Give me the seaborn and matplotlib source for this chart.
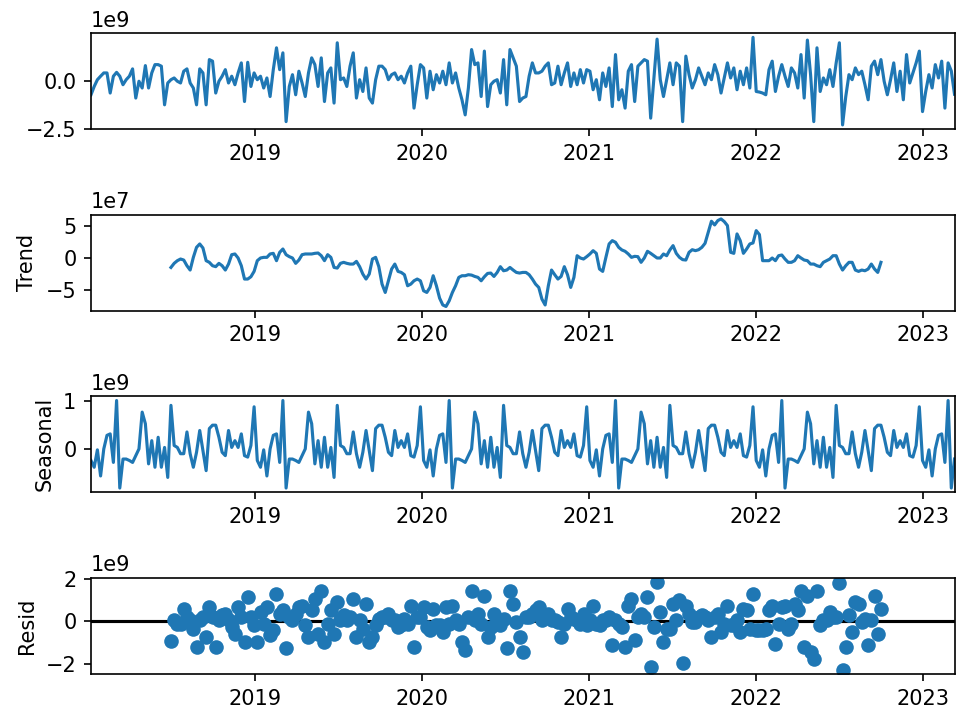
import numpy as np
import pandas as pd
import matplotlib
matplotlib.use('Agg')
import matplotlib.pyplot as plt
import matplotlib.dates as mdates
import seaborn as sns

# Observed series, weekly, in units of 1e9
observed = [
    -0.73, -0.30, 0.05, 0.23, 0.40, 0.40, -0.64, 0.23, 0.43, 0.23,
    -0.21, 0.05, 0.23, 0.61, -0.90, -0.03, -0.38, 0.78, -0.38, 0.40,
    0.83, 0.83, 0.75, -1.25, -0.12, 0.05, 0.14, -0.03, -0.12, 0.49,
    0.61, -0.12, -0.38, -1.25, 0.61, 0.40, -1.25, 1.09, 1.01, -0.64,
    -0.03, 0.23, 0.57, -0.12, 0.23, -0.21, 0.40, 0.92, -1.08, 0.95,
    -0.30, 0.40, 0.05, 0.23, -0.38, 0.14, -0.82, 0.57, 1.70, 0.57,
    1.44, -2.12, -0.30, 0.31, -0.73, 0.49, -0.12, -0.82, 0.40, 1.18,
    0.83, -0.30, 1.18, -1.08, 0.40, 0.66, -1.16, 1.96, 0.05, 0.14,
    -0.30, 0.75, 1.44, -0.90, 0.05, -0.56, 0.66, -0.90, -1.16, 0.05,
    0.75, 0.75,
    0.57, 0.05, 0.31, 0.40, 0.05, 0.23, -0.12, 0.40, 0.75, -1.42,
    -0.21, 0.83, 0.66, -0.90, 0.49, -0.47, 0.31, -0.12, 0.49, -0.21,
    0.92, -0.12, 0.40, -0.38, -0.99, -1.77, -0.38, 1.61, 0.83, 0.92,
    -0.82, 1.53, -1.34, -0.21, -0.03, 0.05, -0.64, 1.09, -1.25, 1.61,
    1.18, 0.75, -1.08, -0.90, -0.82, 0.23, 0.92, 0.40, 0.40, 0.49,
    0.75, 0.92, -0.21, -0.12, 0.75, -0.21, 0.40, 0.92, -0.30, 0.40,
    -0.21, 0.57, -0.12, 0.57, 0.49, -0.47, 0.05, -0.99, 0.40, -0.30,
    0.66, -1.34, 1.35, -0.99, -0.47, -1.42, 0.49, 0.83, -1.08, 0.75,
    0.92, 1.09, 1.01, -1.94, 0.10, 2.15, 0.05, -0.82, 0.05, 0.92,
    -0.21,
    0.92, 0.75, -2.12, 1.27, 0.31, -0.38, 0.05, 0.66, 0.23, -0.21,
    0.40, 0.05, 0.83, 0.31, -0.64, 0.14, 0.92, 0.14, 0.66, -0.47,
    0.49, -0.21, 0.66, -0.38, 2.24, -0.56, -0.59, -0.64, -0.73, 0.57,
    1.01, -0.56, 0.23, 0.83, 0.23, -0.30, 0.66, 0.40, -0.38, 1.35,
    -0.90, 2.10, 0.31, -2.12, 1.70, -0.56, 0.14, -0.21, 0.57, -0.30,
    0.92, 1.96, -2.29, -0.82, 0.31, 0.05, 0.66, 0.31, 0.49, -0.21,
    -0.99, 0.75, 1.01, 0.31, 1.09, -0.03, -0.73, 0.05, 0.92, -0.56,
    0.49, -0.99, 1.35, -0.12, 0.40, 0.92, 1.53, -1.60, -0.56, 0.31,
    -0.38, 0.83, 0.14, 1.01, -1.42, 0.92, 0.50, -0.70,
]

# Trend, in units of 1e7 (starts at week 25)
trend = [
    -1.42, -0.78, -0.36, -0.10, -0.26, -1.15, -1.83, 0.16, 1.73, 2.26,
    1.63, -0.36, -0.62, -1.15, -1.30, -0.78, -1.15, -1.83, -0.89, 0.58,
    0.69, 0.06, -1.15, -3.24, -3.24, -2.88, -2.04, -0.36, 0.06, 0.16,
    0.16, 0.69, 0.79, -0.36, 0.95, 1.47, 0.58, 0.27, 0.06, -0.78,
    -0.26, 0.58, 0.69, 0.69, 0.69, 0.79, 0.84, 0.42, -0.36, 0.58,
    0.16, -1.42, -1.52, -0.78, -0.62, -0.78, -0.89, -0.89, -0.47, -1.30,
    -2.46, -3.24, -2.46, -0.10, 0.16, -1.30, -4.03, -5.34, -3.51, -1.67,
    -0.89, -2.04, -2.20, -2.56, -4.29, -4.03, -3.51, -3.24, -3.51, -5.08,
    -5.34, -4.55, -2.72, -4.29, -6.23, -7.30, -7.54, -6.65, -5.34, -4.29,
    -2.98, -2.72, -2.72, -2.56, -2.62, -2.83, -2.98, -3.51, -2.88, -2.36,
    -2.30, -2.83, -2.20, -1.30, -1.94, -1.83, -1.42, -1.83, -2.20, -2.30,
    -2.20,
    -2.20, -2.56, -3.24, -4.03, -4.55, -6.39, -7.30, -4.29, -1.83, -2.56,
    -3.24, -2.83, -1.30, -2.56, -4.55, -2.98, 0.42, 0.06, -0.10, 0.27,
    0.69, 1.21, 0.79, -1.67, -2.04, 0.16, 2.26, 2.78, 2.52, 1.73,
    1.32, 1.11, 0.69, 0.16, 0.32, 0.27, -0.62, 0.06, 1.11, 0.79,
    0.42, 0.06, 0.06, 0.69, 0.42, 1.32, 2.00, 0.79, 0.16, -0.20,
    -0.26, 0.95, 1.36, 1.21, 1.36, 1.73, 2.36, 4.09, 5.82, 5.24,
    5.93, 6.18, 5.77, 5.14, 0.95, 0.79, 3.83, 2.78, 0.79, 1.47,
    2.26, 2.42, 4.35, 3.73, -0.36, -0.36, -0.36, 0.06, -0.36, 0.42,
    0.53, -0.10, -0.62, -0.62, -0.36, 0.42, 0.06, -0.26, -0.36, -0.89,
    -0.89, -1.15, -1.30, -0.62, -0.36, -0.10, 0.42, 0.42, -0.89, -1.83,
    -1.15, -0.62, -0.62, -1.83, -2.04, -1.83, -1.94, -1.67, -0.89, -1.67,
    -2.20, -0.62,
]

# One 52-week seasonal cycle, in units of 1e9
seasonal_cycle = [
    -0.24, -0.38, -0.02, -0.56, 0.00, 0.28, 0.31, -0.28, 1.00, -0.81,
    -0.21, -0.21, -0.24, -0.28, -0.14, 0.00, 0.76, 0.52, -0.31, 0.17,
    -0.38, 0.24, -0.38, 0.03, -0.59, 0.90, 0.07, 0.03, -0.10, -0.10,
    0.35, -0.10, -0.38, -0.07, 0.38, -0.04, -0.45, 0.42, 0.49, 0.49,
    0.24, -0.07, -0.14, 0.38, 0.03, 0.17, 0.03, 0.31, -0.14, -0.17,
    0.07, 0.87,
]

# Residuals, in units of 1e9 (same weeks as trend)
resid = [
    -0.91, 0.08, -0.11, -0.11, 0.59, 0.20, 0.05, -0.34, -1.19, 0.05,
    0.20, -0.73, 0.67, 0.20, -1.19, 0.05, 0.28, 0.36, 0.05, -0.26,
    -0.57, 0.67, 0.20, -0.96, 1.13, 0.20, -0.19, -0.96, 0.43, -0.11,
    0.67, -0.65, -0.42, 1.29, 0.36, 0.51, -1.27, 0.20, 0.05, 0.36,
    0.67, 0.74, -0.19, -0.73, 0.51, 1.05, -0.57, 1.44, -0.96, -0.11,
    0.51, -0.57, 0.90, 0.05, 0.28, 0.05, 0.20, 1.05, -0.73, 0.05,
    -0.34, 0.82, -0.96, -0.73, -0.19, 0.12, 0.20,
    0.20, 0.36, 0.05, 0.05, -0.26, -0.19, 0.12, -0.11, 0.74, -1.19,
    0.20, 0.20, 0.67, -0.26, -0.42, 0.59, -0.19, -0.19, -0.50, 0.67,
    -0.11, 0.74, 0.05, -0.11, -0.96, -1.35, 0.20, 1.44, 0.05, 0.36,
    -0.11, 1.21, -0.73, -0.26, 0.36, 0.05, -0.19, 0.12, -1.27, 1.44,
    0.82, -0.03, -0.73, -1.43, 0.20, 0.20, 0.36, 0.51, 0.67, 0.05,
    0.20, 0.36, 0.05, 0.05, -0.03, -0.73, -0.11, 0.59, 0.20, 0.12,
    0.05, -0.11, 0.36, -0.19, 0.05, 0.74, -0.11, -0.19, 0.05, 0.05,
    0.20, -1.12, 0.05, -0.11, -0.26, -1.19, 0.74, 1.05, -0.88, 0.20,
    0.36, 0.20, 1.13, -2.12, -0.26, 1.84, 0.43, -0.96, -0.34, -0.34,
    0.82,
    0.05, 0.98, -1.97, 0.74, 0.36, -0.03, -0.03, 0.20, 0.28, 0.20,
    0.05, -0.73, 0.20, 0.36, -0.50, -0.11, 0.74, -0.19, -0.19, 0.05,
    -0.50, 0.59, 0.51, -0.34, 1.29, -0.42, -0.42, -0.42, -0.34, 0.51,
    0.74, -1.04, -0.11, 0.67, 0.74, -0.34, -0.11, 0.82, 0.51, 1.44,
    -1.19, 1.21, -1.43, -1.74, 1.44, -0.19, 0.05, 0.05, 0.43, 0.20,
    0.20, 1.80, -2.26, -1.19, 0.28, -0.50, 0.90, 0.82, -0.03, 0.12,
    -1.12, 0.05, 1.21, -0.57, 0.59,
]

trend_start = 25

dates = pd.date_range('2018-01-07', periods=len(observed), freq='7D')
trend_dates = dates[trend_start:trend_start + len(trend)]
# seasonal component repeats every 52 weeks
seasonal = np.tile(seasonal_cycle, len(dates) // 52 + 1)[:len(dates)]

fig, axes = plt.subplots(4, 1, figsize=(956 / 150, 713 / 150), dpi=150)
fig.subplots_adjust(left=91 / 956, right=954.5 / 956,
                    top=1 - 33 / 713, bottom=1 - 674 / 713,
                    hspace=85 / 96)

sns.lineplot(x=dates, y=np.array(observed) * 1e9, ax=axes[0], color='C0')
sns.lineplot(x=trend_dates, y=np.array(trend) * 1e7, ax=axes[1], color='C0')
sns.lineplot(x=dates, y=seasonal * 1e9, ax=axes[2], color='C0')
sns.scatterplot(x=trend_dates, y=np.array(resid) * 1e9, ax=axes[3],
                color='C0', s=49, linewidth=0)
axes[3].axhline(0, color='#000000', lw=1.5, zorder=0.5)

labels = ['', 'Trend', 'Seasonal', 'Resid']
for ax, lab in zip(axes, labels):
    ax.set_xlim(dates[0], dates[-1])
    ax.xaxis.set_major_locator(mdates.YearLocator())
    ax.xaxis.set_major_formatter(mdates.DateFormatter('%Y'))
    ax.set_xlabel('')
    ax.set_ylabel(lab)

fig.savefig('out.png', dpi=150)
